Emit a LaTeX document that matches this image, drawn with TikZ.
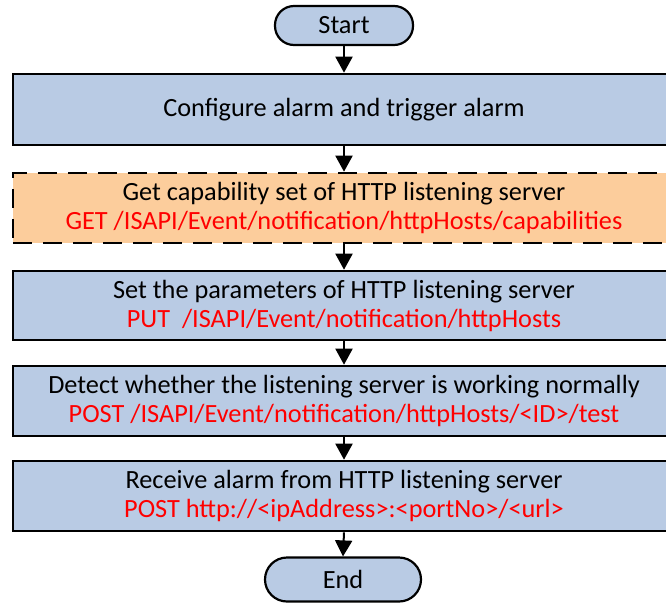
\documentclass[tikz,border=0pt]{standalone}
\usepackage{fontspec}
\setmainfont{Carlito}
\usetikzlibrary{arrows.meta}
\definecolor{boxblue}{RGB}{185,203,228}
\definecolor{boxorange}{RGB}{252,205,156}
\definecolor{txtred}{RGB}{255,0,0}
\begin{document}
\begin{tikzpicture}[x=1pt,y=-1pt,
  stepbox/.style={draw=black,line width=2.6pt,fill=boxblue,minimum width=662pt,
    inner sep=0pt,align=center,font=\fontsize{26.3}{29}\selectfont},
  pill/.style={draw=black,line width=2.2pt,fill=boxblue,rounded corners=19pt,
    inner sep=0pt,font=\fontsize{26.3}{29}\selectfont},
  conn/.style={line width=2pt,-{Triangle[length=16pt,width=17pt]}}]
\useasboundingbox (0,0) rectangle (666,603);
\node[pill,minimum width=138pt,minimum height=39pt] (start) at (344,25.5) {Start};
\node[stepbox,minimum height=71pt] (b1) at (344,109.5) {Configure alarm and trigger alarm};
\node[stepbox,fill=boxorange,dash pattern=on 19pt off 11pt,minimum height=70pt] (b2) at (344,208)
  {Get capability set of HTTP listening server\\\textcolor{txtred}{GET /ISAPI/Event/notification/httpHosts/capabilities}};
\node[stepbox,minimum height=69pt] (b3) at (344,305.5)
  {Set the parameters of HTTP listening server\\\textcolor{txtred}{PUT\ \ /ISAPI/Event/notification/httpHosts}};
\node[stepbox,minimum height=70pt] (b4) at (344,401)
  {Detect whether the listening server is working normally\\\textcolor{txtred}{POST /ISAPI/Event/notification/httpHosts/<ID>/test}};
\node[stepbox,minimum height=70pt] (b5) at (344,496)
  {Receive alarm from HTTP listening server\\\textcolor{txtred}{POST http://<ipAddress>:<portNo>/<url>}};
\node[pill,rounded corners=22pt,minimum width=156pt,minimum height=44pt] (end) at (343,579.5) {End};
\draw[conn] (start.south) -- (b1.north);
\draw[conn] (b1.south) -- (b2.north);
\draw[conn] (b2.south) -- (b3.north);
\draw[conn] (b3.south) -- (b4.north);
\draw[conn] (b4.south) -- (b5.north);
\draw[conn] (b5.south) -- (end.north);
\end{tikzpicture}
\end{document}
